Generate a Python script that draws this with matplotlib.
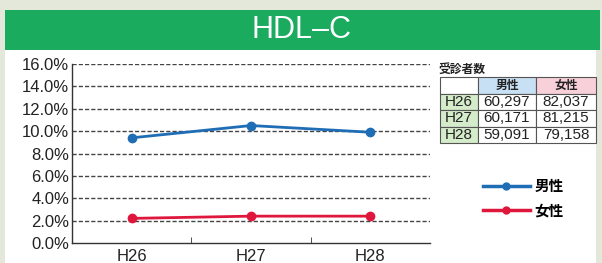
import matplotlib
matplotlib.use("Agg")
import matplotlib.pyplot as plt
from matplotlib.patches import Rectangle
from matplotlib.lines import Line2D

plt.rcParams['font.family'] = ['Noto Sans CJK JP', 'DejaVu Sans']

years = ["H26", "H27", "H28"]
male = [9.4, 10.5, 9.9]
female = [2.2, 2.4, 2.4]
yticks = [0, 2, 4, 6, 8, 10, 12, 14, 16]
table_cols = ["男性", "女性"]
male_counts = ["60,297", "60,171", "59,091"]
female_counts = ["82,037", "81,215", "79,158"]

W, H = 602, 263
fig = plt.figure(figsize=(W/100, H/100), dpi=100)
fig.patch.set_facecolor('#e3e8db')

def fx(px): return px / W
def fy(py): return 1 - py / H

# white panel
fig.patches.append(Rectangle((fx(5), 0), fx(591), fy(50), transform=fig.transFigure,
                             facecolor='white', edgecolor='none', zorder=-3))
# green banner
fig.patches.append(Rectangle((fx(5), fy(50)), fx(595), (40)/H, transform=fig.transFigure,
                             facecolor='#1aab5e', edgecolor='none', zorder=-2))
fig.text(fx(302), fy(30), "HDL–C", color='white', fontsize=22, ha='center', va='center',
         family=['Liberation Sans', 'Noto Sans CJK JP'])

ax = fig.add_axes([fx(72), fy(243), fx(358), (243-64)/H])
ax.set_zorder(2)
ax.set_facecolor('none')
x = list(range(len(years)))
ax.plot(x, male, color='#1f6db5', lw=2, marker='o', ms=6, zorder=3)
ax.plot(x, female, color='#e0173d', lw=2, marker='o', ms=6, zorder=3)
ax.set_xlim(-0.5, 2.5)
ax.set_ylim(0, 16)
ax.set_yticks(yticks)
ax.set_yticklabels([f"{v:.1f}%" for v in yticks], family=['Liberation Sans', 'DejaVu Sans'])
ax.set_xticks(x)
ax.set_xticklabels(years, family=['Liberation Sans', 'DejaVu Sans'])
ax.set_xticks([0.5, 1.5], minor=True)
ax.tick_params(axis='x', which='major', length=0, labelsize=12, pad=4, colors='#222222')
ax.tick_params(axis='x', which='minor', length=4, direction='in', color='#333333')
ax.tick_params(axis='y', length=0, labelsize=12, pad=2, colors='#222222')
for v in yticks[1:]:
    ax.axhline(v, color='#444444', lw=1, ls=(0, (3, 1.5)), zorder=1)
for s in ['top', 'right']:
    ax.spines[s].set_visible(False)
for s in ['left', 'bottom']:
    ax.spines[s].set_color('#333333')
    ax.spines[s].set_linewidth(1)

# table
fig.text(fx(439), fy(69), "受診者数", fontsize=8.5, ha='left', va='center', color='#222222',
         fontweight='bold')
tax = fig.add_axes([fx(440), fy(143), fx(156), (143-77)/H])
tax.set_zorder(2)
tax.axis('off')
cell_text = [["", table_cols[0], table_cols[1]]] + [[y, m, f] for y, m, f in zip(years, male_counts, female_counts)]
colors = [['white', '#c7e0f3', '#f8d0da']] + [['#d5eccb', 'white', 'white'] for _ in years]
tbl = tax.table(cellText=cell_text, cellColours=colors, bbox=[0, 0, 1, 1], cellLoc='center',
                colWidths=[38, 58, 60])
tbl.auto_set_font_size(False)
for (r, c), cell in tbl.get_celld().items():
    cell.set_edgecolor('#555555')
    cell.set_linewidth(0.8)
    t = cell.get_text()
    t.set_fontsize(11 if r > 0 else 8.5)
    t.set_color('#222222')
    if r > 0:
        t.set_family(['Liberation Sans', 'DejaVu Sans'])
    else:
        t.set_fontweight('bold')

# legend
handles = [Line2D([], [], color='#1f6db5', lw=2.5, marker='o', ms=5),
           Line2D([], [], color='#e0173d', lw=2.5, marker='o', ms=5)]
leg = fig.legend(handles, table_cols, loc='center left', bbox_to_anchor=(fx(470), fy(198)),
                 frameon=False, fontsize=10.5, handlelength=3.2, labelspacing=0.6, handletextpad=0.3)
for t in leg.get_texts():
    t.set_fontweight('bold')

fig.savefig("out.png", dpi=100, facecolor=fig.get_facecolor())
